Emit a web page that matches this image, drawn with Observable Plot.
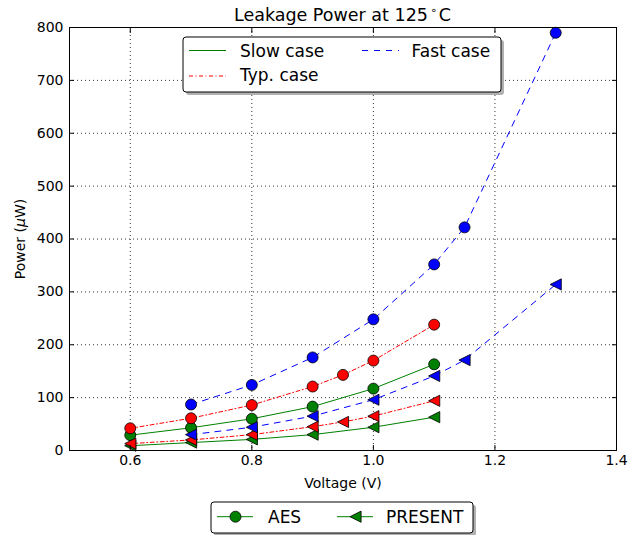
<!DOCTYPE html>
<html>
<head>
<meta charset="utf-8">
<script src="https://cdn.jsdelivr.net/npm/d3@7"></script>
<script src="https://cdn.jsdelivr.net/npm/@observablehq/plot@0.6"></script>
<style>
  body { margin: 0; background: #fff; font-family: "DejaVu Sans", sans-serif; }
  #wrap { position: relative; width: 637px; height: 535px; }
  #wrap > svg { position: absolute; left: 0; top: 0; }
</style>
</head>
<body>
<div id="wrap"></div>
<script>
// ---- data ----
const xFast = [0.7, 0.8, 0.9, 1.0, 1.1, 1.15, 1.3];
const fastAES = [87, 124, 176, 248, 352, 422, 790];
const fastPRESENT = [30, 44, 65, 96, 141, 171, 314];

const xTyp = [0.6, 0.7, 0.8, 0.9, 0.95, 1.0, 1.1];
const typAES = [42, 61, 86, 121, 143, 170, 238];
const typPRESENT = [13, 20, 30, 45, 54, 65, 94];

const xSlow = [0.6, 0.7, 0.8, 0.9, 1.0, 1.1];
const slowAES = [29, 43, 60, 83, 117, 163];
const slowPRESENT = [9, 15, 21, 30, 44, 63];

const xTicks = [0.6, 0.8, 1.0, 1.2, 1.4];
const yTicks = [0, 100, 200, 300, 400, 500, 600, 700, 800];

const caseLabels = ["Slow case", "Typ. case", "Fast case"];
const chipLabels = ["AES", "PRESENT"];

// ---- styles ----
const COLORS = {slow: "#008000", typ: "#ff0000", fast: "#0000ff"};
const DASH = {slow: null, typ: "4,2.5,1,2.5", fast: "6,6"};

const triLeft = {
  draw(ctx, size) {
    const h = Math.sqrt(size / Math.PI);
    ctx.moveTo(-h, 0);
    ctx.lineTo(h, -h);
    ctx.lineTo(h, h);
    ctx.closePath();
  }
};

const series = [
  {key: "slow", chip: "AES", xs: xSlow, ys: slowAES},
  {key: "slow", chip: "PRESENT", xs: xSlow, ys: slowPRESENT},
  {key: "typ", chip: "AES", xs: xTyp, ys: typAES},
  {key: "typ", chip: "PRESENT", xs: xTyp, ys: typPRESENT},
  {key: "fast", chip: "AES", xs: xFast, ys: fastAES},
  {key: "fast", chip: "PRESENT", xs: xFast, ys: fastPRESENT}
];

const seriesMarks = series.flatMap(s => {
  const rows = s.xs.map((x, i) => ({x, y: s.ys[i]}));
  const isAES = s.chip === "AES";
  return [
    Plot.line(rows, {x: "x", y: "y", stroke: COLORS[s.key], strokeWidth: 1, strokeDasharray: DASH[s.key]}),
    Plot.dot(rows, {
      x: "x", y: "y",
      symbol: isAES ? "circle" : triLeft,
      r: isAES ? 5.5 : 5.6,
      fill: COLORS[s.key], fillOpacity: 1,
      stroke: "black", strokeWidth: 0.8
    })
  ];
});

const gridStyle = {stroke: "black", strokeOpacity: 1, strokeWidth: 0.8, strokeDasharray: "1,3"};

const plot = Plot.plot({
  width: 637,
  height: 535,
  marginLeft: 69,
  marginRight: 21,
  marginTop: 27,
  marginBottom: 85,
  x: {domain: [0.5, 1.4]},
  y: {domain: [0, 800]},
  style: {fontFamily: "DejaVu Sans, sans-serif", fontSize: "14px", color: "black", background: "white"},
  marks: [
    Plot.gridX(xTicks, gridStyle),
    Plot.gridY(yTicks, gridStyle),
    ...seriesMarks,
    Plot.frame({stroke: "black", strokeWidth: 1}),
    Plot.axisX(xTicks, {anchor: "bottom", tickSize: 0, tickPadding: 5, tickFormat: d => d.toFixed(1), fontSize: 14,
      label: "Voltage (V)", labelArrow: "none", labelAnchor: "center", labelOffset: 37}),
    Plot.axisX(xTicks, {anchor: "bottom", tickSize: -5, tickFormat: () => "", label: null}),
    Plot.axisX(xTicks, {anchor: "top", tickSize: -5, tickFormat: () => "", label: null}),
    Plot.axisY(yTicks, {anchor: "left", tickSize: 0, tickPadding: 6, fontSize: 14,
      label: "Power (μW)", labelArrow: "none", labelAnchor: "center", labelOffset: 54}),
    Plot.axisY(yTicks, {anchor: "left", tickSize: -5, tickFormat: () => "", label: null}),
    Plot.axisY(yTicks, {anchor: "right", tickSize: -5, tickFormat: () => "", label: null})
  ]
});

const wrap = document.getElementById("wrap");
wrap.appendChild(plot);

// strip any label arrows, italic mu in the y label
d3.select(plot).selectAll("text").each(function() {
  const s = this.textContent;
  if (/[→↑←↓]/.test(s) && this.children.length === 0) this.textContent = s.replace(/\s*[→↑←↓]\s*/g, "");
});
d3.select(plot).selectAll("text").filter(function() { return this.textContent.includes("Power (μW)") && this.children.length === 0; })
  .each(function() {
    const t = d3.select(this);
    t.text("");
    t.append("tspan").text("Power (");
    t.append("tspan").attr("font-style", "italic").text("μ");
    t.append("tspan").text("W)");
  });

// ---- overlay: title and legends ----
const ov = d3.create("svg").attr("width", 637).attr("height", 535)
  .style("font-family", "DejaVu Sans, sans-serif").style("pointer-events", "none");

const title = ov.append("text").attr("x", 342.5).attr("y", 21).attr("text-anchor", "middle")
  .attr("font-size", 17.5).attr("fill", "black");
title.append("tspan").text("Leakage Power at 125");
title.append("tspan").attr("font-size", 11).attr("dy", -7).attr("dx", 2).text("∘");
title.append("tspan").attr("dy", 7).attr("dx", 2).text("C");

function legendBox(x, y, w, h) {
  ov.append("rect").attr("x", x + 3).attr("y", y + 3).attr("width", w).attr("height", h).attr("rx", 3)
    .attr("fill", "#b0b0b0");
  ov.append("rect").attr("x", x).attr("y", y).attr("width", w).attr("height", h).attr("rx", 3)
    .attr("fill", "white").attr("stroke", "black").attr("stroke-width", 1);
}

// top legend (cases)
legendBox(183, 37, 318, 55);
const caseKeys = ["slow", "typ", "fast"];
const casePos = [[189, 50.5, 240, 56.7], [189, 76, 240, 81], [362, 50.5, 411.5, 56.7]];
caseKeys.forEach((k, i) => {
  const [lx, ly, tx, ty] = casePos[i];
  ov.append("line").attr("x1", lx).attr("x2", lx + 37).attr("y1", ly).attr("y2", ly)
    .attr("stroke", COLORS[k]).attr("stroke-width", 1).attr("stroke-dasharray", DASH[k]);
  ov.append("text").attr("x", tx).attr("y", ty).attr("font-size", 17).text(caseLabels[i]);
});

// bottom legend (chips)
legendBox(211, 502, 262, 31);
[[217, 268], [337, 386]].forEach(([lx, tx], i) => {
  const ly = 516.7;
  ov.append("line").attr("x1", lx).attr("x2", lx + 36).attr("y1", ly).attr("y2", ly)
    .attr("stroke", COLORS.slow).attr("stroke-width", 1);
  const sym = i === 0 ? d3.symbol(d3.symbolCircle, Math.PI * 5.5 * 5.5) : d3.symbol(triLeft, Math.PI * 5.6 * 5.6);
  ov.append("path").attr("d", sym()).attr("transform", `translate(${lx + 18.5},${ly})`)
    .attr("fill", COLORS.slow).attr("stroke", "black").attr("stroke-width", 0.8);
  ov.append("text").attr("x", tx).attr("y", 523).attr("font-size", 17).text(chipLabels[i]);
});

wrap.appendChild(ov.node());
</script>
</body>
</html>
